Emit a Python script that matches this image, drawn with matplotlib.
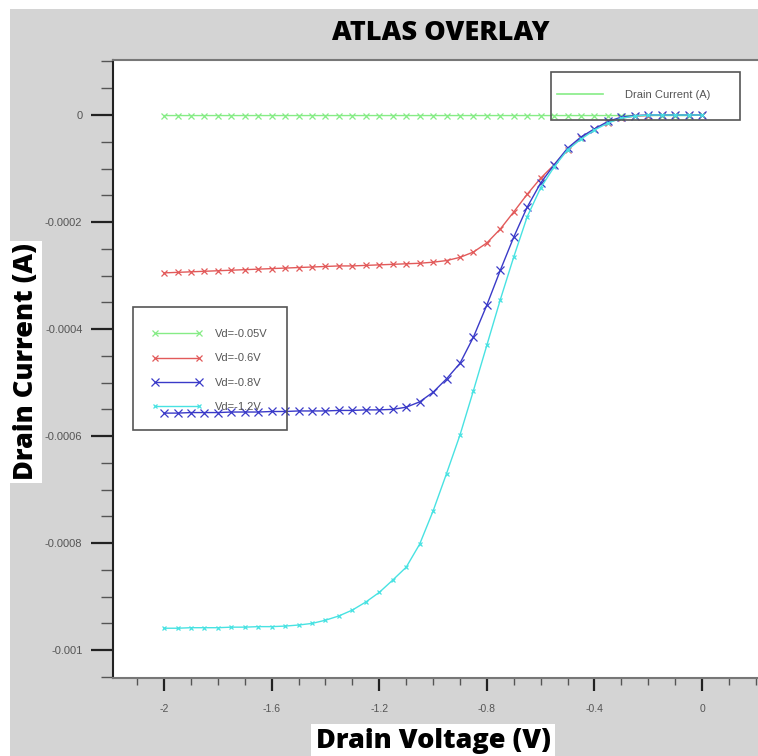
import matplotlib
matplotlib.use("Agg")
import matplotlib.pyplot as plt
from matplotlib import font_manager as fm
from matplotlib.patches import Rectangle
from matplotlib.ticker import MultipleLocator, FuncFormatter

# drain voltage sweep (V)
vd = [-2.00, -1.95, -1.90, -1.85, -1.80, -1.75, -1.70, -1.65, -1.60, -1.55,
      -1.50, -1.45, -1.40, -1.35, -1.30, -1.25, -1.20, -1.15, -1.10, -1.05,
      -1.00, -0.95, -0.90, -0.85, -0.80, -0.75, -0.70, -0.65, -0.60, -0.55,
      -0.50, -0.45, -0.40, -0.35, -0.30, -0.25, -0.20, -0.15, -0.10, -0.05, 0.00]

# drain current, in units of 1e-4 A
id_005 = [-0.01, -0.01, -0.01, -0.01, -0.01, -0.01, -0.01, -0.01, -0.01, -0.01,
          -0.01, -0.01, -0.01, -0.01, -0.01, -0.01, -0.01, -0.01, -0.01, -0.01,
          -0.01, -0.01, -0.01, -0.01, -0.01, -0.01, -0.01, -0.01, -0.01, -0.01,
          -0.01, -0.01, -0.01, -0.01, -0.01, -0.01, -0.01, -0.01, -0.01, -0.01, 0.00]
id_06 = [-2.95, -2.94, -2.93, -2.92, -2.91, -2.90, -2.89, -2.88, -2.87, -2.86,
         -2.85, -2.84, -2.83, -2.82, -2.82, -2.81, -2.80, -2.79, -2.78, -2.77,
         -2.75, -2.72, -2.66, -2.56, -2.39, -2.13, -1.81, -1.48, -1.18, -0.93,
         -0.65, -0.43, -0.26, -0.14, -0.06, -0.02, -0.01, 0.00, 0.00, 0.00, 0.00]
id_08 = [-5.57, -5.57, -5.56, -5.56, -5.56, -5.55, -5.55, -5.55, -5.54, -5.54,
         -5.53, -5.53, -5.53, -5.52, -5.52, -5.51, -5.51, -5.50, -5.46, -5.36,
         -5.18, -4.93, -4.64, -4.15, -3.55, -2.90, -2.28, -1.72, -1.27, -0.93,
         -0.62, -0.41, -0.26, -0.12, -0.04, -0.01, 0.00, 0.00, 0.00, 0.00, 0.00]
id_12 = [-9.59, -9.59, -9.58, -9.58, -9.58, -9.57, -9.57, -9.56, -9.56, -9.55,
         -9.53, -9.50, -9.44, -9.36, -9.25, -9.10, -8.92, -8.69, -8.45, -8.02,
         -7.40, -6.70, -5.98, -5.15, -4.30, -3.45, -2.65, -1.90, -1.36, -0.97,
         -0.65, -0.45, -0.28, -0.15, -0.06, -0.02, 0.00, 0.00, 0.00, 0.00, 0.00]

labels = ["Vd=-0.05V", "Vd=-0.6V", "Vd=-0.8V", "Vd=-1.2V"]
colors = ["#86ec86", "#e25a5a", "#3a3ac8", "#48e2e2"]
marker_sizes = [4, 4, 5.5, 3.5]

# pick the heaviest installed sans face for the bold labels
heavy = None
for name in ["Open Sans", "Lato", "Inter", "Roboto"]:
    faces = [f for f in fm.fontManager.ttflist if f.name == name and f.style == "normal"]
    def wnum(f):
        w = f.weight
        if isinstance(w, str):
            w = fm.weight_dict.get(w, 400)
        return w
    faces = [f for f in faces if wnum(f) >= 800]
    if faces:
        heavy = max(faces, key=wnum).fname
        break

W, H = 758, 756
fig = plt.figure(figsize=(W / 100, H / 100), dpi=100, facecolor="white")
# grey panel behind everything
fig.add_artist(Rectangle((10 / W, 0), 1, (H - 9) / H, transform=fig.transFigure,
                         facecolor="#d4d4d4", edgecolor="none", zorder=-10))

ax = fig.add_axes([113 / W, 1 - 678 / H, 1 - 113 / W, (678 - 60) / H])
ax.set_facecolor("white")

scale = 1e-4
series = [id_005, id_06, id_08, id_12]
handles = []
for cur, lab, col, ms in zip(series, labels, colors, marker_sizes):
    h, = ax.plot(vd, [c * scale for c in cur], color=col, lw=1.0, marker="x",
                 ms=ms, mew=0.9, label=lab)
    handles.append(h)

ax.set_xlim(-2.19, 0.208)
ax.set_ylim(-0.001052, 0.0001028)

fmt = FuncFormatter(lambda v, _: "%g" % round(v, 6))
ax.xaxis.set_major_locator(MultipleLocator(0.4))
ax.xaxis.set_minor_locator(MultipleLocator(0.1))
ax.yaxis.set_major_locator(MultipleLocator(0.0002))
ax.yaxis.set_minor_locator(MultipleLocator(0.00005))
ax.xaxis.set_major_formatter(fmt)
ax.yaxis.set_major_formatter(fmt)

ax.tick_params(axis="y", which="major", direction="out", length=16, width=1.6,
               color="#222222", pad=6, labelsize=8, labelcolor="#555555")
ax.tick_params(axis="y", which="minor", direction="out", length=9, width=1.0,
               color="#555555")
ax.tick_params(axis="x", which="major", direction="out", length=9, width=1.6,
               color="#222222", pad=10, labelsize=7.5, labelcolor="#555555")
ax.tick_params(axis="x", which="minor", direction="out", length=5, width=1.0,
               color="#555555")
for lab in ax.get_xticklabels() + ax.get_yticklabels():
    lab.set_fontfamily("Liberation Sans")

ax.spines["right"].set_visible(False)
ax.spines["left"].set_color("#222222")
ax.spines["left"].set_linewidth(1.5)
ax.spines["bottom"].set_color("#777777")
ax.spines["bottom"].set_linewidth(1.5)
ax.spines["top"].set_color("#777777")
ax.spines["top"].set_linewidth(1.5)

if heavy:
    bold = dict(fontproperties=fm.FontProperties(fname=heavy, size=19.5))
else:
    bold = dict(family=["Open Sans", "DejaVu Sans"], weight="bold", size=20)
fig.text(441 / W, 1 - 33 / H, "ATLAS OVERLAY", ha="center", va="center", **bold)
fig.text(433 / W, 1 - 741 / H, "Drain Voltage (V)", ha="center", va="center",
         bbox=dict(facecolor="white", edgecolor="none", pad=3), **bold)
fig.text(26 / W, 1 - 362 / H, "Drain Current (A)", ha="center", va="center",
         rotation=90, bbox=dict(facecolor="white", edgecolor="none", pad=2), **bold)

# legend frames
fig.add_artist(Rectangle((133 / W, 1 - 430 / H), (287 - 133) / W, (430 - 307) / H,
                         transform=fig.transFigure, facecolor="none",
                         edgecolor="#555555", lw=1.2))
fig.add_artist(Rectangle((551 / W, 1 - 120 / H), (740 - 551) / W, (120 - 72) / H,
                         transform=fig.transFigure, facecolor="none",
                         edgecolor="#555555", lw=1.2))

leg_font = {"family": "Liberation Sans", "size": 8}
leg1 = fig.legend(handles=handles, labels=labels, loc="upper left",
                  bbox_to_anchor=(152 / W, 1 - 329 / H), frameon=False,
                  borderpad=0, borderaxespad=0, handlelength=4.5,
                  handletextpad=1.2, labelspacing=1.3, numpoints=2, prop=leg_font)
for t in leg1.get_texts():
    t.set_color("#555555")
h2, = ax.plot([], [], color=colors[0], lw=1.2)
leg2 = fig.legend(handles=[h2], labels=["Drain Current (A)"], loc="upper left",
                  bbox_to_anchor=(557 / W, 1 - 90 / H), frameon=False,
                  borderpad=0, borderaxespad=0, handlelength=4.1,
                  handletextpad=2.0, prop=leg_font)
for t in leg2.get_texts():
    t.set_color("#555555")

fig.savefig("out.png", dpi=100, facecolor="white")
